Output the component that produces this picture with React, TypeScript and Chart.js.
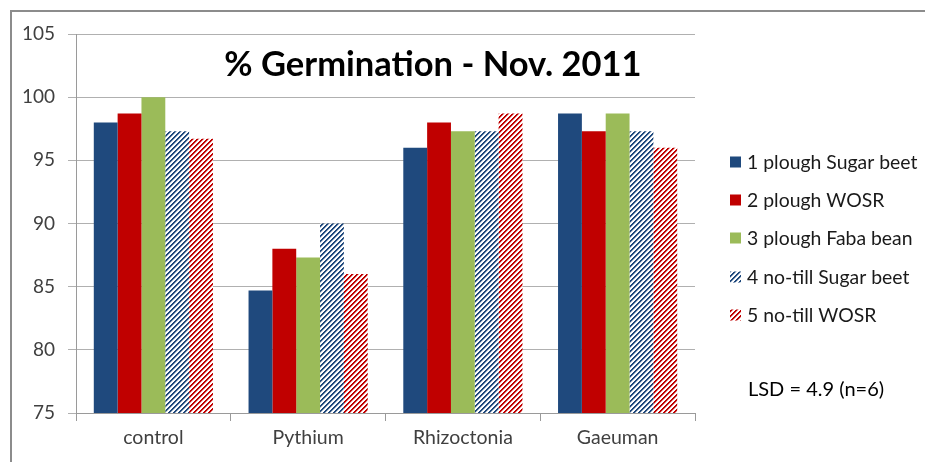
import React, { useEffect, useRef } from "react";
import { Chart, registerables } from "chart.js";

Chart.register(...registerables);

const categories = ["control", "Pythium", "Rhizoctonia", "Gaeuman"];
const seriesLabels = [
  "1 plough Sugar beet",
  "2 plough WOSR",
  "3 plough Faba bean",
  "4 no-till Sugar beet",
  "5 no-till WOSR",
];
const ploughSugarBeet = [98, 84.7, 96, 98.7];
const ploughWOSR = [98.7, 88, 98, 97.3];
const ploughFabaBean = [100, 87.3, 97.3, 98.7];
const noTillSugarBeet = [97.3, 90, 97.3, 97.3];
const noTillWOSR = [96.7, 86, 98.7, 96];
const yMin = 75;
const yMax = 105;
const yStep = 5;
const titleText = "% Germination - Nov. 2011";
const noteText = "LSD = 4.9 (n=6)";

const BLUE = "#1F497D";
const RED = "#C00000";
const GREEN = "#9BBB59";
const FONT = "Lato, 'Open Sans', sans-serif";

function makeHatch(color: string): CanvasPattern | string {
  const c = document.createElement("canvas");
  c.width = 10;
  c.height = 10;
  const ctx = c.getContext("2d");
  if (!ctx) return color;
  ctx.fillStyle = "#ffffff";
  ctx.fillRect(0, 0, 10, 10);
  for (let x = 0; x < 10; x++) {
    for (let y = 0; y < 10; y++) {
      const m = (x + y) % 5;
      if (m < 2) {
        ctx.globalAlpha = 1;
        ctx.fillStyle = color;
        ctx.fillRect(x, y, 1, 1);
      } else if (m === 2) {
        ctx.globalAlpha = 0.35;
        ctx.fillStyle = color;
        ctx.fillRect(x, y, 1, 1);
      }
    }
  }
  ctx.globalAlpha = 1;
  const p = ctx.createPattern(c, "repeat");
  return p || color;
}

const decorPlugin = {
  id: "decor",
  afterDraw(chart: any) {
    const ctx = chart.ctx as CanvasRenderingContext2D;
    ctx.save();
    // outer frame
    ctx.strokeStyle = "#8c8c8c";
    ctx.lineWidth = 2;
    ctx.beginPath();
    ctx.moveTo(11, 470);
    ctx.lineTo(11, 11);
    ctx.lineTo(940, 11);
    ctx.stroke();

    // title
    ctx.fillStyle = "#000000";
    ctx.font = `bold 34.5px ${FONT}`;
    ctx.textAlign = "center";
    ctx.textBaseline = "middle";
    ctx.fillText(titleText, 433, 65);

    // legend
    ctx.font = `19.4px ${FONT}`;
    ctx.textAlign = "left";
    ctx.textBaseline = "middle";
    const ys = [162, 200, 238, 277, 315];
    chart.data.datasets.forEach((ds: any, i: number) => {
      const cy = ys[i];
      ctx.fillStyle = ds.backgroundColor;
      ctx.fillRect(730, cy - 5.5, 11, 11);
      ctx.fillStyle = "#1a1a1a";
      ctx.fillText(ds.label, 747, cy + 1);
    });

    // LSD note
    ctx.fillStyle = "#000000";
    ctx.font = `20px ${FONT}`;
    ctx.fillText(noteText, 748, 390);
    ctx.restore();
  },
};

export default function App() {
  const ref = useRef<HTMLCanvasElement | null>(null);
  useEffect(() => {
    if (!ref.current) return;
    const values = [ploughSugarBeet, ploughWOSR, ploughFabaBean, noTillSugarBeet, noTillWOSR];
    const fills = [BLUE, RED, GREEN, makeHatch(BLUE), makeHatch(RED)];
    const chart = new Chart(ref.current, {
      type: "bar",
      data: {
        labels: categories,
        datasets: values.map((v, i) => ({
          label: seriesLabels[i],
          data: v,
          backgroundColor: fills[i] as any,
          borderWidth: 0,
          categoryPercentage: 0.77,
          barPercentage: 1.0,
        })),
      },
      options: {
        responsive: false,
        animation: false,
        layout: { padding: { left: 0, top: 34, right: 230, bottom: 0 } },
        plugins: {
          legend: { display: false },
          title: { display: false },
          tooltip: { enabled: false },
        },
        scales: {
          x: {
            afterFit: (s: any) => {
              s.height = 49;
            },
            grid: {
              drawOnChartArea: false,
              drawTicks: true,
              tickLength: 8,
              color: "#9a9a9a",
              offset: true,
            },
            border: { display: true, color: "#9a9a9a", width: 1 },
            ticks: {
              color: "#404040",
              font: { family: FONT, size: 19.5 },
              padding: 5,
              maxRotation: 0,
            },
          },
          y: {
            min: yMin,
            max: yMax,
            afterFit: (s: any) => {
              s.width = 76;
            },
            grid: {
              color: "#b0b0b0",
              drawTicks: true,
              tickLength: 8,
            },
            border: { display: true, color: "#9a9a9a", width: 1 },
            ticks: {
              stepSize: yStep,
              color: "#404040",
              font: { family: FONT, size: 19 },
              padding: 13,
            },
          },
        },
      },
      plugins: [decorPlugin],
    });
    return () => chart.destroy();
  }, []);
  return (
    <div style={{ position: "fixed", left: 0, top: 0, width: 925, height: 462, background: "#fff" }}>
      <canvas ref={ref} width={925} height={462} />
    </div>
  );
}
